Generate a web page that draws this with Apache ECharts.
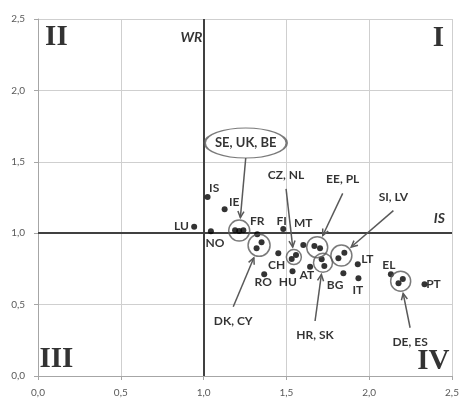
<!DOCTYPE html>
<html>
<head>
<meta charset="utf-8">
<script src="https://cdn.jsdelivr.net/npm/echarts@6/dist/echarts.min.js"></script>
<style>
html,body{margin:0;padding:0;background:#fff}
#chart{width:459px;height:398px}
</style>
</head>
<body>
<div id="chart"></div>
<script>
// Country codes with their IS (x) and WR (y) index values
const countries = ['LU','IS','IE','NO','SE','UK','BE','FR','DK','CY','FI','MT','CH','RO','HU','CZ','NL','AT','EE','PL','HR','SK','SI','LV','BG','LT','IT','EL','DE','ES','PT'];
const isValues  = [0.943,1.024,1.127,1.044,1.190,1.215,1.240,1.324,1.320,1.350,1.481,1.602,1.451,1.366,1.537,1.532,1.558,1.643,1.669,1.703,1.713,1.729,1.814,1.850,1.844,1.931,1.935,2.131,2.177,2.203,2.334];
const wrValues  = [1.046,1.253,1.167,1.013,1.020,1.015,1.020,0.992,0.894,0.936,1.029,0.917,0.859,0.712,0.733,0.819,0.847,0.765,0.910,0.894,0.817,0.770,0.824,0.863,0.719,0.782,0.684,0.712,0.649,0.679,0.642];

// Axis ticks
const axisMin = 0, axisMax = 2.5, axisStep = 0.5;
// Reference level of both indices
const refLevel = 1;

// Groups of countries that are circled together and named in a callout
const clusterMembers = [['SE','UK','BE'],['DK','CY'],['CZ','NL'],['EE','PL'],['HR','SK'],['SI','LV'],['DE','ES']];
const clusterLabelX  = [1.2545,1.179,1.498,1.840,1.673,2.146,2.247];
const clusterLabelY  = [1.632,0.387,1.408,1.377,0.287,1.256,0.240];

// Quadrant names and axis captions
const quadrantNames = ['II','I','III','IV'];
const quadrantX = [0.111,2.418,0.111,2.388];
const quadrantY = [2.372,2.366,0.112,0.101];
const captionNames = ['WR','IS'];
const captionX = [0.927,2.424];
const captionY = [2.369,1.104];

// ---- styling ----
const FONT = 'Lato';
const LINE = '#595959';
const TEXT = '#000';
// where each single-country label sits relative to its dot (px)
const labelOffsets = {
  LU:[-12.6,-0.7], IS:[6.6,-8.7], IE:[9.6,-7], NO:[4,12], FR:[0,-13], FI:[-1.6,-8],
  MT:[0,-22], CH:[-1.6,11.7], RO:[-1,8], HU:[-4.8,10.4], AT:[-3.3,8.3], BG:[-8.3,11.7],
  LT:[9.6,-5], IT:[-0.6,11.7], EL:[-2,-9], PT:[9,0]
};
const ringSizes = [21,22,15,21,19,21,20];
const ellipseSize = [82,30];
const clear = 'rgba(0,0,0,0)';

const idx = {};
countries.forEach((c,i)=>{ idx[c]=i; });
const clusterCenters = clusterMembers.map(m => {
  const xs = m.map(c => isValues[idx[c]]), ys = m.map(c => wrValues[idx[c]]);
  return [xs.reduce((a,b)=>a+b,0)/xs.length, ys.reduce((a,b)=>a+b,0)/ys.length];
});
const clusterNames = clusterMembers.map(m => m.join(', '));

const pointData = countries.map((c,i) => {
  const item = { name:c, value:[isValues[i], wrValues[i]] };
  const off = labelOffsets[c];
  item.label = off ? { show:true, position:'inside', offset:off, formatter:c } : { show:false };
  return item;
});

const fmt = v => v.toFixed(1).replace('.', ',');

const axisCommon = {
  type:'value', min:axisMin, max:axisMax, interval:axisStep,
  axisLine:{show:true, lineStyle:{color:'#a6a6a6', width:1}},
  axisTick:{show:true, length:4, inside:false, lineStyle:{color:'#a6a6a6'}},
  splitLine:{show:true, lineStyle:{color:'#cfcfcf', width:1}},
  axisLabel:{formatter:fmt, color:'#595959', fontFamily:FONT, fontSize:10}
};

const textLabel = (extra) => Object.assign({
  show:true, position:'inside', color:TEXT, fontFamily:FONT, fontWeight:'bold', fontSize:12,
  textBorderWidth:0
}, extra);

const chart = echarts.init(document.getElementById('chart'), null, {renderer:'canvas'});
chart.setOption({
  animation:false,
  backgroundColor:'#fff',
  grid:{left:38, right:7, top:19, bottom:22, containLabel:false, outerBoundsMode:'none'},
  xAxis:Object.assign({}, axisCommon, {axisLabel:Object.assign({}, axisCommon.axisLabel, {margin:12})}),
  yAxis:Object.assign({}, axisCommon, {axisLabel:Object.assign({}, axisCommon.axisLabel, {margin:13})}),
  series:[
    {
      name:'countries', type:'scatter', symbol:'circle', symbolSize:6, z:5,
      itemStyle:{color:'#000'},
      label:textLabel({}),
      data:pointData,
      markLine:{
        silent:true, symbol:'none', z:3,
        lineStyle:{color:'#404040', width:2, type:'solid'},
        label:{show:false},
        data:[{xAxis:refLevel},{yAxis:refLevel}]
      }
    },
    {
      name:'rings', type:'scatter', symbol:'circle', z:6, silent:true,
      itemStyle:{color:clear, borderColor:LINE, borderWidth:1.5},
      data:clusterCenters.map((c,i)=>({value:c, symbolSize:ringSizes[i]}))
    },
    {
      name:'callouts', type:'scatter', symbol:'circle', z:7, silent:true,
      label:textLabel({}),
      data:clusterNames.map((n,i)=>({
        value:[clusterLabelX[i], clusterLabelY[i]],
        symbolSize: i===0 ? ellipseSize : 1,
        itemStyle: i===0 ? {color:'#fff', borderColor:LINE, borderWidth:1.5} : {color:clear, borderWidth:0},
        label: i===0 ? {formatter:n, fontSize:13} : {formatter:n}
      }))
    },
    {
      name:'quadrants', type:'scatter', symbol:'circle', symbolSize:1, z:7, silent:true,
      itemStyle:{color:clear},
      label:textLabel({color:'#000', fontFamily:'Liberation Serif', fontSize:29}),
      data:quadrantNames.map((n,i)=>({value:[quadrantX[i], quadrantY[i]], label:{formatter:n}}))
    },
    {
      name:'captions', type:'scatter', symbol:'circle', symbolSize:1, z:7, silent:true,
      itemStyle:{color:clear},
      label:textLabel({fontStyle:'italic', fontSize:14}),
      data:captionNames.map((n,i)=>({value:[captionX[i], captionY[i]], label:{formatter:n}}))
    }
  ]
});

// Arrows from each callout label to the ring around its group
function drawArrows(){
  const els = [];
  clusterNames.forEach((n,i)=>{
    const lab = chart.convertToPixel({gridIndex:0}, [clusterLabelX[i], clusterLabelY[i]]);
    const ctr = chart.convertToPixel({gridIndex:0}, clusterCenters[i]);
    const gap = i===0 ? ellipseSize[1]/2 : 14;
    const tail = [lab[0], lab[1] + (lab[1] > ctr[1] ? -gap : gap)];
    const dx = tail[0]-ctr[0], dy = tail[1]-ctr[1], d = Math.hypot(dx,dy);
    const ux = dx/d, uy = dy/d;
    const r = ringSizes[i]/2 + 2.5;
    const head = [ctr[0]+ux*r, ctr[1]+uy*r];
    const len = 7, ang = 0.45;
    const rot = (a)=>[ux*Math.cos(a)-uy*Math.sin(a), ux*Math.sin(a)+uy*Math.cos(a)];
    const a1 = rot(ang), a2 = rot(-ang);
    els.push({type:'line', z:8, silent:true,
      shape:{x1:tail[0], y1:tail[1], x2:head[0], y2:head[1]},
      style:{stroke:LINE, lineWidth:1.5}});
    els.push({type:'polyline', z:8, silent:true,
      shape:{points:[[head[0]+a1[0]*len, head[1]+a1[1]*len], head, [head[0]+a2[0]*len, head[1]+a2[1]*len]]},
      style:{stroke:LINE, lineWidth:1.5, fill:null}});
  });
  chart.setOption({graphic:{elements:els}});
}
drawArrows();
</script>
</body>
</html>
